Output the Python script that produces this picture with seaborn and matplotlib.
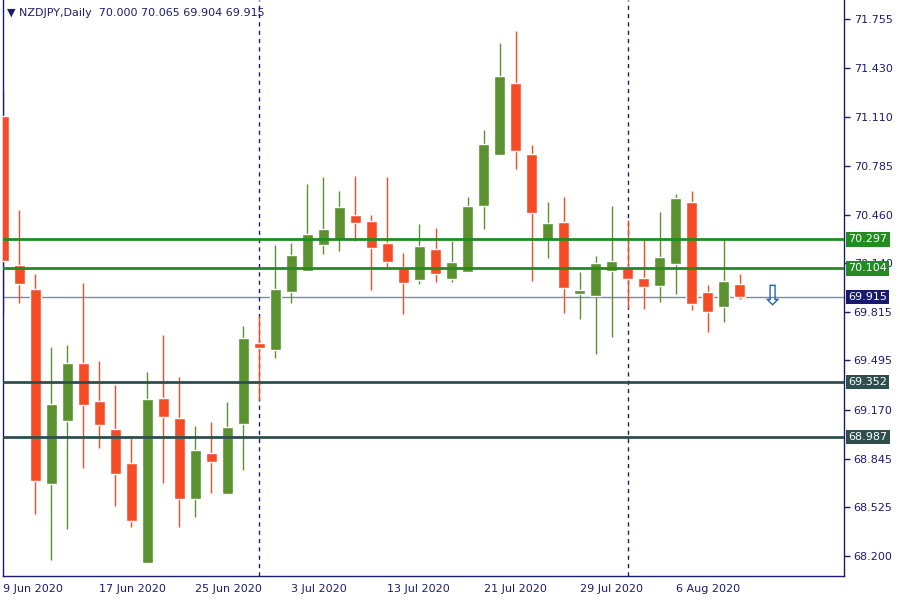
import matplotlib
matplotlib.use("Agg")
import numpy as np
import pandas as pd
import matplotlib.pyplot as plt
import seaborn as sns

# NZDJPY daily candles
opens = [71.114, 70.127, 69.968, 68.679, 69.096, 69.478, 69.226, 69.041, 68.816, 68.156,
         69.246, 69.114, 68.579, 68.882, 68.613, 69.076, 69.611, 69.566, 69.950, 70.089,
         70.262, 70.301, 70.458, 70.419, 70.273, 70.114, 70.030, 70.233, 70.036, 70.083,
         70.520, 70.858, 71.332, 70.862, 70.299, 70.411, 69.937, 69.924, 70.089, 70.114,
         70.041, 69.990, 70.136, 70.545, 69.948, 69.851, 70.000]
highs = [71.286, 70.491, 70.068, 69.586, 69.597, 70.010, 69.491, 69.332, 68.979, 69.419,
         69.664, 69.385, 69.061, 69.087, 69.220, 69.723, 69.791, 70.260, 70.273, 70.664,
         70.709, 70.617, 70.717, 70.458, 70.710, 70.207, 70.397, 70.370, 70.286, 70.577,
         71.021, 71.597, 71.677, 70.922, 70.545, 70.577, 70.081, 70.187, 70.516, 70.425,
         70.293, 70.478, 70.597, 70.617, 69.995, 70.299, 70.065]
lows = [69.811, 69.877, 68.478, 68.174, 68.381, 68.785, 68.917, 68.533, 68.394, 68.156,
        68.685, 68.394, 68.460, 68.619, 68.613, 68.772, 69.231, 69.513, 69.877, 70.089,
        70.202, 70.222, 70.288, 69.964, 70.112, 69.805, 70.003, 70.017, 70.017, 70.083,
        70.368, 70.858, 70.765, 70.023, 70.176, 69.811, 69.772, 69.540, 69.652, 69.844,
        69.838, 69.884, 69.937, 69.831, 69.685, 69.752, 69.904]
closes = [70.156, 70.003, 68.699, 69.207, 69.478, 69.202, 69.070, 68.745, 68.434, 69.240,
          69.122, 68.579, 68.902, 68.825, 69.054, 69.644, 69.580, 69.968, 70.193, 70.332,
          70.366, 70.511, 70.407, 70.242, 70.149, 70.010, 70.253, 70.070, 70.147, 70.518,
          70.928, 71.379, 70.884, 70.473, 70.405, 69.977, 69.962, 70.140, 70.154, 70.036,
          69.983, 70.180, 70.570, 69.871, 69.818, 70.021, 69.915]

dates = pd.bdate_range("2020-06-09", periods=len(opens))
green_levels = [70.297, 70.104]
dark_levels = [69.352, 68.987]
bid = 69.915
y_ticks = [71.755, 71.430, 71.110, 70.785, 70.460, 70.140, 69.815,
           69.495, 69.170, 68.845, 68.525, 68.200]
label_step = 6
title = "▼ NZDJPY,Daily  70.000 70.065 69.904 69.915"

bull = "#5a922f"
bear = "#f44d26"
navy = "#1c1c6e"

sns.set_style("white")
plt.rcParams["font.family"] = ["DejaVu Sans"]

df = pd.DataFrame({"date": dates, "open": opens, "high": highs,
                   "low": lows, "close": closes})
df["idx"] = np.arange(len(df))
df["up"] = df["close"] >= df["open"]

fig = plt.figure(figsize=(9, 6), dpi=100)
ax = fig.add_axes([3 / 900, 24 / 600, 841 / 900, 576 / 600])

# horizontal levels (drawn over the candles, like the terminal does)
for lv in green_levels:
    ax.axhline(lv, color="#228b22", lw=2, zorder=4)
for lv in dark_levels:
    ax.axhline(lv, color="#2f4f4f", lw=2, zorder=4)
ax.axhline(bid, color="#7f8a99", lw=1, zorder=1)

# month separators
month_starts = [i for i in range(1, len(df)) if dates[i].month != dates[i - 1].month]
for i in month_starts:
    ax.axvline(i, color=navy, lw=1, linestyle=(0, (3, 3)), zorder=1.5)

# candles
for _, r in df.iterrows():
    c = bull if r["up"] else bear
    ax.vlines(r["idx"], r["low"], r["high"], color=c, lw=1, zorder=2)
    bottom = min(r["open"], r["close"])
    height = max(abs(r["close"] - r["open"]), 0.004)
    ax.bar(r["idx"], height, bottom=bottom, width=0.69, color=c, zorder=3)

# sell arrow
ax.text(len(df) + 1, bid, "⇩", ha="center", va="center", fontsize=20,
        color="#1f5fbf", zorder=5)

ax.set_xlim(-0.03, 52.53)
ax.set_ylim(68.0675, 71.882)

ax.yaxis.tick_right()
ax.set_yticks(y_ticks)
ax.set_yticklabels([f"{v:.3f}" for v in y_ticks])
xt = list(range(0, len(df), label_step))
ax.set_xticks(xt)
ax.set_xticklabels([f"{dates[i].day} {dates[i].strftime('%b %Y')}" for i in xt])
for lbl in ax.get_xticklabels():
    lbl.set_ha("left")

ax.tick_params(axis="both", direction="out", length=4, width=1, color=navy,
               labelcolor=navy, labelsize=8)
ax.tick_params(axis="y", pad=3)
ax.tick_params(axis="x", pad=2)

for s in ["left", "bottom", "right"]:
    ax.spines[s].set_color(navy)
    ax.spines[s].set_linewidth(1)
ax.spines["top"].set_visible(False)

# price boxes on the right axis
boxes = [(v, "#228b22") for v in green_levels] + [(bid, "#191970")] + \
        [(v, "#2f4f4f") for v in dark_levels]
for v, col in boxes:
    ax.annotate(f"{v:.3f}", xy=(1.0, v), xycoords=ax.get_yaxis_transform(),
                xytext=(3, 0), textcoords="offset points", ha="left", va="center",
                fontsize=8, color="white", annotation_clip=False, zorder=10,
                bbox=dict(boxstyle="square,pad=0.2", fc=col, ec="none"))

ax.annotate(title, xy=(0, 1), xycoords="axes fraction", xytext=(3, -9.5),
            textcoords="offset points", ha="left", va="center",
            fontsize=8, color=navy)

fig.savefig("out.png", dpi=100)
